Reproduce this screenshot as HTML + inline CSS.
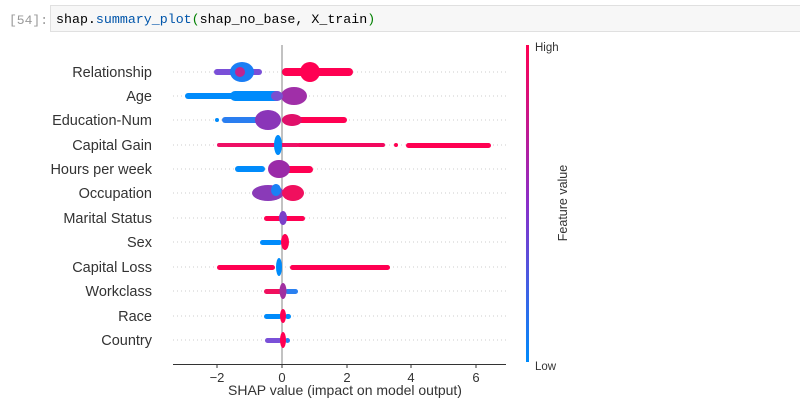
<!DOCTYPE html>
<html><head><meta charset="utf-8"><style>
body{margin:0;background:#fff;width:800px;height:409px;overflow:hidden;font-family:"Liberation Sans",sans-serif}
</style></head><body>
<svg width="800" height="409" xmlns="http://www.w3.org/2000/svg" font-family="Liberation Sans, DejaVu Sans, sans-serif">
<defs><linearGradient id="cb" x1="0" y1="0" x2="0" y2="1">
<stop offset="0" stop-color="#ff0052"/><stop offset="0.5" stop-color="#8a2fc9"/><stop offset="1" stop-color="#008bfb"/></linearGradient></defs>
<text x="9" y="24" font-family="Liberation Mono, monospace" font-size="13" fill="#999">[54]:</text>
<rect x="50.5" y="5.5" width="760" height="26" fill="#f7f7f7" stroke="#e0e0e0"/>
<text x="56" y="23" font-family="Liberation Mono, monospace" font-size="13.3" fill="#000">shap.<tspan fill="#0055aa">summary_plot</tspan><tspan fill="#008000">(</tspan>shap_no_base, X_train<tspan fill="#008000">)</tspan></text>
<g stroke="#ccc" stroke-dasharray="1,3" stroke-width="1">
<line x1="173" x2="506" y1="72" y2="72"/><line x1="173" x2="506" y1="96" y2="96"/><line x1="173" x2="506" y1="120" y2="120"/><line x1="173" x2="506" y1="145" y2="145"/><line x1="173" x2="506" y1="169" y2="169"/><line x1="173" x2="506" y1="193" y2="193"/><line x1="173" x2="506" y1="218" y2="218"/><line x1="173" x2="506" y1="242" y2="242"/><line x1="173" x2="506" y1="267" y2="267"/><line x1="173" x2="506" y1="291" y2="291"/><line x1="173" x2="506" y1="316" y2="316"/><line x1="173" x2="506" y1="340" y2="340"/>
</g>
<g font-size="14.5" fill="#333" text-anchor="end">
<text x="152" y="77">Relationship</text><text x="152" y="101">Age</text><text x="152" y="125">Education-Num</text><text x="152" y="150">Capital Gain</text><text x="152" y="174">Hours per week</text><text x="152" y="198">Occupation</text><text x="152" y="223">Marital Status</text><text x="152" y="247">Sex</text><text x="152" y="272">Capital Loss</text><text x="152" y="296">Workclass</text><text x="152" y="321">Race</text><text x="152" y="345">Country</text>
</g>
<line x1="282" x2="282" y1="45" y2="364" stroke="#999" stroke-width="1.2"/>
<g>
<rect x="214" y="69" width="48" height="6" rx="3" fill="#7a4fd8"/>
<ellipse cx="242" cy="72" rx="12" ry="10" fill="#1a7ef5"/>
<ellipse cx="240" cy="72" rx="5" ry="5" fill="#c02590"/>
<rect x="282" y="68" width="71" height="8" rx="4" fill="#ff0052"/>
<ellipse cx="310" cy="72" rx="10" ry="10" fill="#ff0052"/>
<rect x="185" y="93" width="97" height="6" rx="3" fill="#008bfb"/>
<rect x="230" y="91" width="52" height="10" rx="5" fill="#008bfb"/>
<ellipse cx="294" cy="96" rx="13" ry="9" fill="#a02fa8"/>
<ellipse cx="277" cy="96" rx="6" ry="5" fill="#7a50d0"/>
<circle cx="217" cy="120" r="2" fill="#008bfb"/>
<rect x="222" y="117" width="43" height="6" rx="3" fill="#2a7ef0"/>
<ellipse cx="268" cy="120" rx="13" ry="10" fill="#8a35b8"/>
<rect x="282" y="117" width="65" height="6" rx="3" fill="#ff0052"/>
<ellipse cx="292" cy="120" rx="10" ry="6" fill="#e0106a"/>
<rect x="217" y="143" width="82" height="4" rx="2" fill="#ee1065"/>
<rect x="297" y="143" width="88" height="4" rx="2" fill="#f2085e"/>
<circle cx="396" cy="145" r="2" fill="#ff0052"/>
<rect x="406" y="143" width="85" height="5" rx="2.5" fill="#ff0052"/>
<ellipse cx="278" cy="145" rx="4" ry="10" fill="#008bfb"/>
<rect x="235" y="166" width="30" height="6" rx="3" fill="#008bfb"/>
<rect x="285" y="166" width="28" height="7" rx="3.5" fill="#ff0052"/>
<ellipse cx="279" cy="169" rx="11" ry="9" fill="#9a2aa8"/>
<ellipse cx="268" cy="193" rx="16" ry="8" fill="#8a3ab8"/>
<ellipse cx="293" cy="193" rx="11" ry="8" fill="#f0105e"/>
<ellipse cx="276" cy="190" rx="5" ry="6" fill="#1a80f5"/>
<rect x="264" y="216" width="41" height="5" rx="2.5" fill="#ff0052"/>
<ellipse cx="283" cy="218" rx="4" ry="7" fill="#7a40c8"/>
<rect x="260" y="240" width="22" height="5" rx="2.5" fill="#008bfb"/>
<ellipse cx="285" cy="242" rx="4" ry="8" fill="#ff0052"/>
<rect x="217" y="265" width="58" height="5" rx="2.5" fill="#ff0052"/>
<rect x="290" y="265" width="100" height="5" rx="2.5" fill="#ff0052"/>
<ellipse cx="279" cy="267" rx="3" ry="9" fill="#008bfb"/>
<rect x="264" y="289" width="18" height="5" rx="2.5" fill="#f0105e"/>
<rect x="285" y="289" width="13" height="5" rx="2.5" fill="#2a80f0"/>
<ellipse cx="283" cy="291" rx="3.5" ry="8" fill="#a030a0"/>
<rect x="264" y="314" width="18" height="5" rx="2.5" fill="#008bfb"/>
<rect x="285" y="314" width="6" height="5" rx="2.5" fill="#008bfb"/>
<ellipse cx="283" cy="316" rx="3" ry="7" fill="#ff0052"/>
<rect x="265" y="338" width="17" height="5" rx="2.5" fill="#7a50d8"/>
<rect x="285" y="338" width="5" height="5" rx="2.5" fill="#2a80f0"/>
<ellipse cx="283" cy="340" rx="3" ry="8" fill="#ff0052"/>
</g>
<line x1="173" x2="506" y1="364.5" y2="364.5" stroke="#333" stroke-width="1"/>
<g stroke="#333"><line x1="217" x2="217" y1="364" y2="368"/><line x1="282" x2="282" y1="364" y2="368"/><line x1="347" x2="347" y1="364" y2="368"/><line x1="411" x2="411" y1="364" y2="368"/><line x1="476" x2="476" y1="364" y2="368"/></g>
<g font-size="13" fill="#333" text-anchor="middle">
<text x="217" y="382">−2</text><text x="282" y="382">0</text><text x="347" y="382">2</text><text x="411" y="382">4</text><text x="476" y="382">6</text>
</g>
<text x="345" y="395" font-size="14" fill="#333" text-anchor="middle">SHAP value (impact on model output)</text>
<rect x="526" y="45" width="3" height="317" fill="url(#cb)"/>
<text x="535" y="51" font-size="11.5" fill="#333">High</text>
<text x="535" y="370" font-size="11.5" fill="#333">Low</text>
<text transform="translate(567,203) rotate(-90)" font-size="12.5" fill="#333" text-anchor="middle">Feature value</text>
</svg>
</body></html>
